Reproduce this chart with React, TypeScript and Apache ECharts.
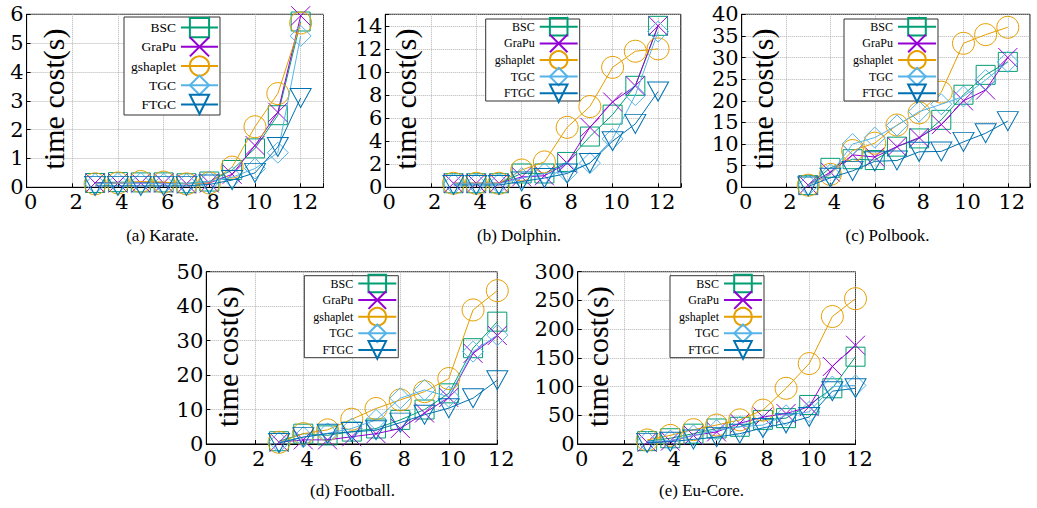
import React, { useEffect, useRef } from 'react';
import * as echarts from 'echarts';

const xs = [3, 4, 5, 6, 7, 8, 9, 10, 11, 12];
const methods = ['BSC', 'GraPu', 'gshaplet', 'TGC', 'FTGC'];
const colors = ['#009e73', '#9400d3', '#e69f00', '#56b4e9', '#0072b2'];

// (a) Karate
const karateBSC = [0.15, 0.18, 0.17, 0.17, 0.14, 0.2, 0.6, 1.35, 2.5, 5.75];
const karateGraPu = [0.15, 0.15, 0.15, 0.15, 0.12, 0.15, 0.45, 1.45, 2.6, 5.95];
const karateGshaplet = [0.12, 0.15, 0.2, 0.18, 0.12, 0.15, 0.7, 2.1, 3.25, 5.7];
const karateTGC = [0.12, 0.15, 0.15, 0.12, 0.12, 0.2, 0.35, 0.65, 1.2, 5.25];
const karateFTGC = [0.05, 0.05, 0.05, 0.05, 0.05, 0.1, 0.25, 0.5, 1.4, 3.1];

// (b) Dolphin
const dolphinBSC = [0.35, 0.35, 0.35, 1.2, 1.2, 2.2, 4.4, 6.3, 8.8, 14.0];
const dolphinGraPu = [0.35, 0.35, 0.35, 0.9, 1.0, 2.1, 5.2, 7.4, 8.8, 14.0];
const dolphinGshaplet = [0.35, 0.35, 0.35, 1.5, 2.2, 5.2, 7.0, 10.4, 11.8, 12.0];
const dolphinTGC = [0.3, 0.3, 0.3, 0.8, 1.2, 1.3, 2.1, 4.2, 8.0, 13.5];
const dolphinFTGC = [0.2, 0.2, 0.2, 0.5, 0.8, 1.2, 2.1, 4.0, 5.5, 8.3];

// (c) Polbook
const polbookBSC = [0.5, 4.5, 6.5, 6.3, 9.4, 11.3, 15.6, 21.4, 26, 29];
const polbookGraPu = [0.5, 3.5, 7.5, 7, 9.4, 11.5, 14.5, 20, 22.5, 30];
const polbookGshaplet = [0.5, 3, 8.5, 10.2, 14.4, 17.2, 22, 33.3, 35.3, 37];
const polbookTGC = [0.5, 3, 10, 11.5, 14.3, 17.5, 19.2, 21, 24.8, 29];
const polbookFTGC = [0.2, 2.2, 3.8, 6, 6.2, 8.2, 8.3, 10.5, 12.5, 15.3];

// (d) Football
const footballBSC = [0.8, 3, 2.5, 3.6, 4.5, 7, 10, 14.7, 27.8, 35.5];
const footballGraPu = [0.5, 1.2, 1.2, 2.1, 3, 4.5, 9, 13.5, 26.3, 31.5];
const footballGshaplet = [0.5, 3, 4.1, 7.2, 10.3, 12.8, 15.2, 19, 38.9, 44.5];
const footballTGC = [0.5, 2, 3.1, 4.5, 7, 13.3, 15.7, 13.7, 26.8, 31.6];
const footballFTGC = [0.3, 2, 3, 3.5, 4, 6.2, 8.5, 10.4, 13.3, 18.5];

// (e) Eu-Core
const eucoreBSC = [5, 10, 18, 27, 30, 42, 45, 68, 97, 152];
const eucoreGraPu = [3, 5, 15, 21, 36, 47, 53, 65, 135, 172];
const eucoreGshaplet = [7, 15, 25, 33, 42, 59, 97, 140, 222, 253];
const eucoreTGC = [4, 6, 15, 24, 30, 33, 50, 56, 100, 102];
const eucoreFTGC = [2, 4, 8, 12, 18, 28, 36, 47, 92, 97];

const panelTitles = ['(a) Karate.', '(b) Dolphin.', '(c) Polbook.', '(d) Football.', '(e) Eu-Core.'];
const panelData = [
  [karateBSC, karateGraPu, karateGshaplet, karateTGC, karateFTGC],
  [dolphinBSC, dolphinGraPu, dolphinGshaplet, dolphinTGC, dolphinFTGC],
  [polbookBSC, polbookGraPu, polbookGshaplet, polbookTGC, polbookFTGC],
  [footballBSC, footballGraPu, footballGshaplet, footballTGC, footballFTGC],
  [eucoreBSC, eucoreGraPu, eucoreGshaplet, eucoreTGC, eucoreFTGC],
];
const yMax = [6, 15, 40, 50, 300];
const yInterval = [1, 2, 5, 10, 50];
const xMax = [13, 13, 13, 12, 12];
const yLabel = 'time cost(s)';

const symbols = ['rect', 'path://M0,0L10,10M10,0L0,10', 'circle', 'diamond', 'path://M0,0L20,0L10,17Z'];
const symbolSizes: any[] = [19, 19, 22, 21, [21, 19]];

// layout
const grids = [
  { left: 26.6, top: 14.3, width: 296.9, height: 173 },
  { left: 385.3, top: 14.3, width: 295.5, height: 173 },
  { left: 741.7, top: 14.3, width: 297.9, height: 173 },
  { left: 206.3, top: 271.7, width: 291, height: 172.3 },
  { left: 577.7, top: 271.7, width: 277.8, height: 172.3 },
];
const legends = [
  { left: 124, top: 17, iw: 37, ih: 24, gap: -2, pad: [0, 1, 0, 7], fs: 13.5 },
  { left: 485.7, top: 19, iw: 38, ih: 22, gap: -3, pad: [-2, 1, -2, 9], fs: 12 },
  { left: 844, top: 19, iw: 38, ih: 22, gap: -3, pad: [-2, 1, -2, 9], fs: 12 },
  { left: 304.3, top: 275.7, iw: 38, ih: 22, gap: -3, pad: [-2, 1, -2, 9], fs: 12 },
  { left: 670, top: 275.7, iw: 38, ih: 22, gap: -3, pad: [-2, 1, -2, 9], fs: 12 },
];
const yLabelPos = [[53, 99], [405.5, 99], [762.5, 99], [227.5, 356.7], [597.5, 356.7]];
const titlePos = [[162.5, 235], [519, 235], [887.5, 235], [352.5, 490], [701.5, 490]];

const tickFont = "'DejaVu Serif', serif";
const serif = "'Liberation Serif', 'Times New Roman', serif";

export default function App() {
  const ref = useRef<HTMLDivElement>(null);
  useEffect(() => {
    if (!ref.current) return;
    const chart = echarts.init(ref.current, null, { renderer: 'svg' });
    const axisCommon = (fmtInterval: number) => ({
      axisLine: { show: true, onZero: false, lineStyle: { color: '#000', width: 1 } },
      axisTick: { show: true, inside: true, length: 4, lineStyle: { color: '#000' } },
      axisLabel: {
        color: '#000', fontFamily: tickFont, fontSize: 21, lineHeight: 19,
        formatter: (v: number) => (Math.abs(v / fmtInterval - Math.round(v / fmtInterval)) < 1e-9 ? String(v) : ''),
      },
      splitLine: { show: true, lineStyle: { color: '#b4b4b4', type: 'dotted', width: 1 } },
    });
    const xAxis = grids.map((_, i) => {
      const c: any = axisCommon(2);
      c.axisLabel.margin = 5;
      c.axisLabel.padding = [0, 0, 0, 8];
      return { type: 'value', gridIndex: i, min: 0, max: xMax[i], interval: 2, ...c };
    });
    const yAxis = grids.map((_, i) => {
      const c: any = axisCommon(yInterval[i]);
      c.axisLabel.margin = 3;
      return { type: 'value', gridIndex: i, min: 0, max: yMax[i], interval: yInterval[i], ...c };
    });
    const series: any[] = [];
    panelData.forEach((panel, i) => {
      panel.forEach((vals, k) => {
        series.push({
          type: 'line',
          name: methods[k],
          xAxisIndex: i,
          yAxisIndex: i,
          data: xs.map((x, j) => [x, vals[j]]),
          symbol: symbols[k],
          symbolSize: symbolSizes[k],
          showSymbol: true,
          clip: false,
          itemStyle: { color: 'rgba(0,0,0,0)', borderColor: colors[k], borderWidth: 1 },
          lineStyle: { color: colors[k], width: 1 },
          emphasis: { disabled: true },
          z: 2 + k * 0.01,
        });
      });
    });
    const graphic: any[] = [];
    yLabelPos.forEach(([x, y]) => {
      graphic.push({
        type: 'text', x, y, rotation: Math.PI / 2, z: 10,
        style: { text: yLabel, fontFamily: serif, fontSize: 30, lineHeight: 26, fill: '#000', textAlign: 'center', textVerticalAlign: 'middle' },
      });
    });
    titlePos.forEach(([x, y], i) => {
      graphic.push({
        type: 'text', x, y, z: 10,
        style: { text: panelTitles[i], fontFamily: serif, fontSize: 17, fill: '#000', textAlign: 'center', textVerticalAlign: 'middle' },
      });
    });
    chart.setOption({
      animation: false,
      backgroundColor: '#fff',
      grid: grids.map((g) => ({ ...g, show: true, borderColor: '#000', borderWidth: 1, backgroundColor: 'transparent', containLabel: false })),
      xAxis,
      yAxis,
      legend: legends.map((l) => ({
        show: true, orient: 'vertical', align: 'right', left: l.left, top: l.top,
        itemWidth: l.iw, itemHeight: l.ih, itemGap: l.gap, padding: l.pad,
        backgroundColor: '#fff', borderColor: '#333', borderWidth: 1, borderRadius: 0,
        selectedMode: false,
        textStyle: { fontFamily: serif, fontSize: l.fs, color: '#000' },
        data: methods,
      })),
      series,
      graphic,
    });
    return () => chart.dispose();
  }, []);
  return <div ref={ref} style={{ position: 'absolute', left: 0, top: 0, width: 1037, height: 508 }} />;
}
